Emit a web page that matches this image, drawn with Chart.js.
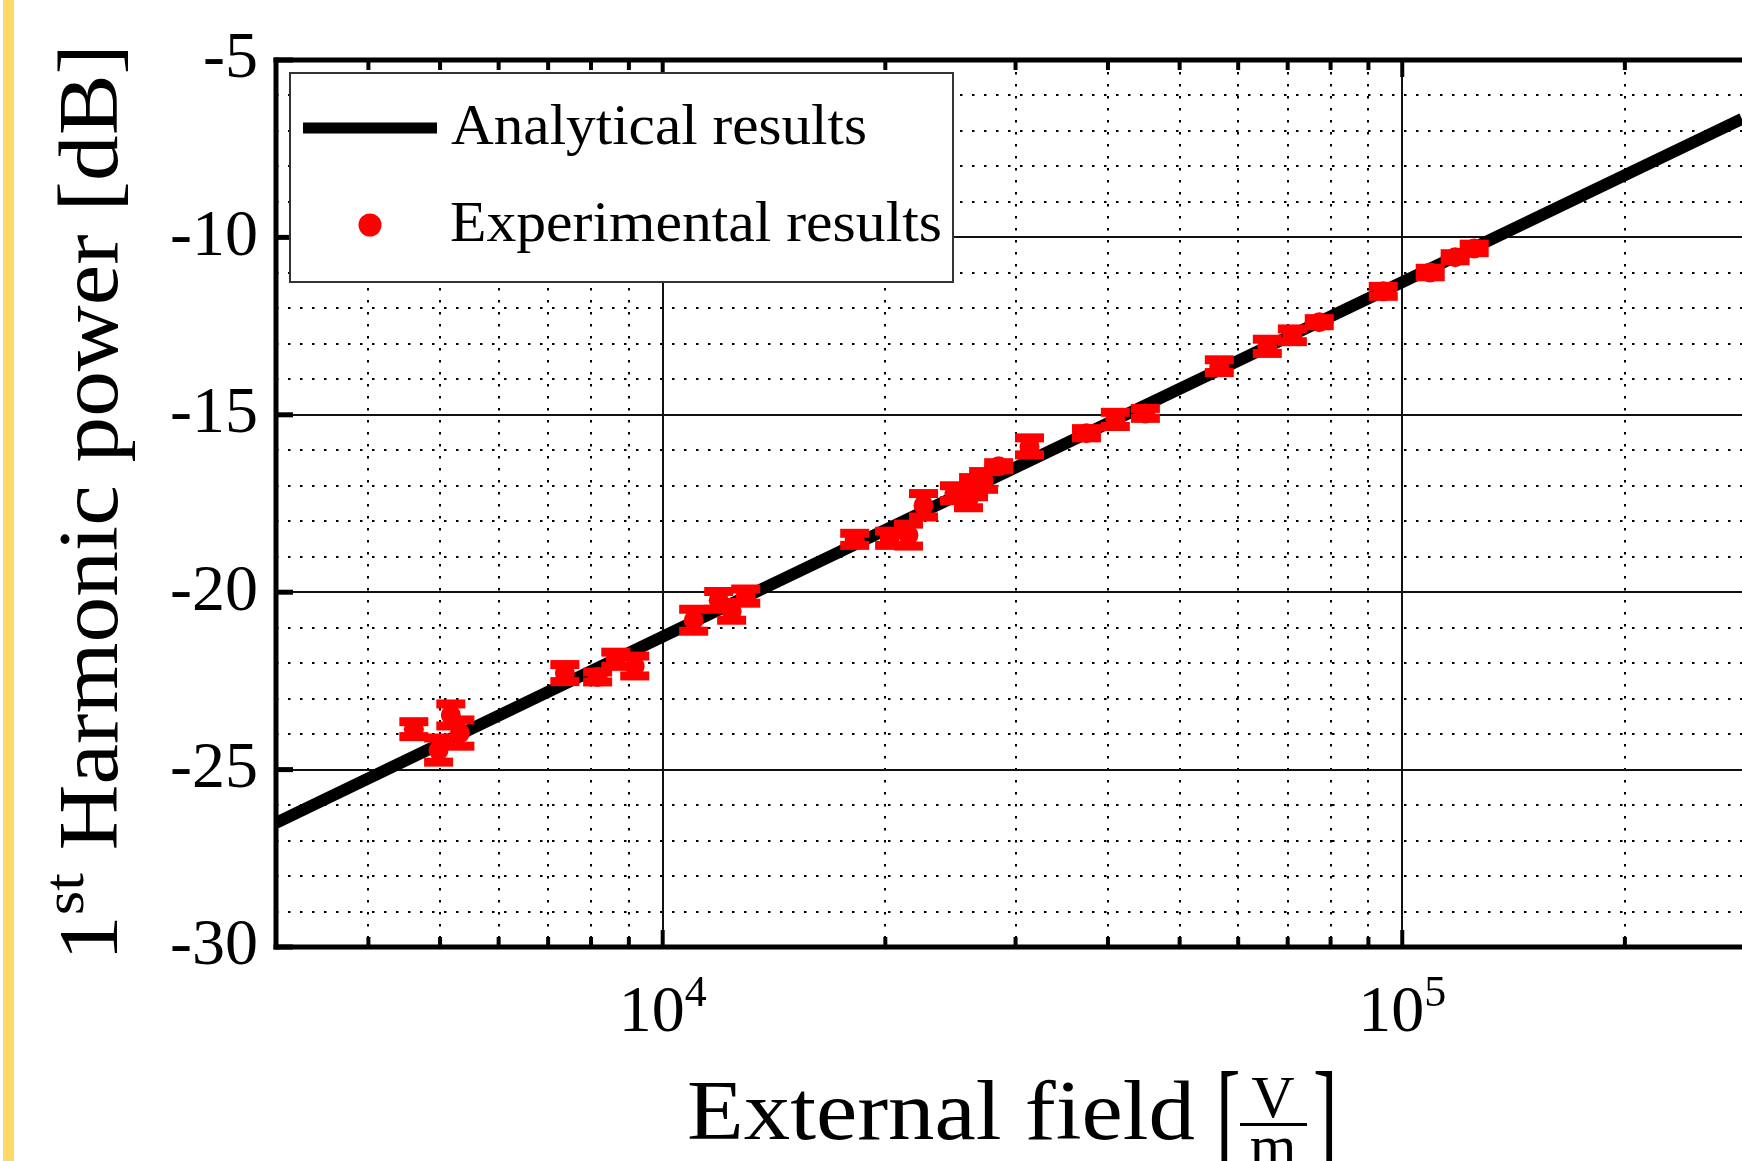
<!DOCTYPE html>
<html>
<head>
<meta charset="utf-8">
<script src="https://cdn.jsdelivr.net/npm/chart.js@4.4.0/dist/chart.umd.min.js"></script>
<style>
html,body{margin:0;padding:0;background:#fff;overflow:hidden}
#wrap{position:relative;width:1742px;height:1161px;background:#fff}
#stripe{position:absolute;left:3px;top:0;width:11px;height:1161px;background:#FFD966}
canvas{position:absolute;left:0;top:0}
</style>
</head>
<body>
<div id="wrap"><canvas id="c" width="1742" height="1161"></canvas><div id="stripe"></div></div>
<script>
// ---- data ----
const fieldExp = [4608, 4977, 5170, 5318, 7374, 8166, 8641, 9166, 11012, 11904, 12394, 12950,
  18181, 20269, 21495, 22524, 24803, 25910, 26321, 27158, 28460, 31330, 37411, 40929, 44944,
  56576, 65700, 71028, 77230, 94256, 109100, 117900, 125100];
const powerExp = [-23.86, -24.45, -23.46, -23.97, -22.28, -22.39, -21.89, -22.08, -20.79, -20.23, -20.54, -20.11,
  -18.51, -18.48, -18.39, -17.55, -17.21, -17.38, -17.04, -16.85, -16.45, -15.89, -15.52, -15.13, -14.96,
  -13.63, -13.07, -12.76, -12.39, -11.52, -10.99, -10.56, -10.31];
const errExp = [0.21, 0.34, 0.31, 0.37, 0.24, 0.14, 0.20, 0.28, 0.31, 0.25, 0.25, 0.20,
  0.17, 0.20, 0.31, 0.33, 0.21, 0.24, 0.27, 0.25, 0.10, 0.24, 0.13, 0.20, 0.14,
  0.18, 0.20, 0.18, 0.10, 0.14, 0.12, 0.10, 0.12];
const fieldAna = [3000, 10000, 100000, 288000];
const powerAna = [-26.5, -21.25, -11.26, -6.66];

const yMajorTicks = [-30, -25, -20, -15, -10, -5];
const yMinorGrid = [-29,-28,-27,-26,-24,-23,-22,-21,-19,-18,-17,-16,-14,-13,-12,-11,-9,-8,-7,-6];
const xMajorTicks = [10000, 100000];
const xMajorExp = ['4', '5'];
const xMinorTicks = [4000,5000,6000,7000,8000,9000,20000,30000,40000,50000,60000,70000,80000,90000,200000];

const legendLabels = ['Analytical results', 'Experimental results'];
const xTitleMain = 'External field';
const xTitleNum = 'V', xTitleDen = 'm';
const yTitleParts = ['1', 'st', ' Harmonic power [dB]'];

const SERIF = '"Liberation Serif", "DejaVu Serif", serif';
const RED = '#ff0000';

function line(ctx, x1, y1, x2, y2) { ctx.beginPath(); ctx.moveTo(x1, y1); ctx.lineTo(x2, y2); ctx.stroke(); }

const gridPlugin = {
  id: 'gridPlugin',
  beforeDatasetsDraw(chart) {
    const ctx = chart.ctx, a = chart.chartArea, xs = chart.scales.x, ys = chart.scales.y;
    ctx.save();
    ctx.strokeStyle = '#000';
    ctx.lineWidth = 2;
    ctx.setLineDash([2.5, 9.5]);
    xMinorTicks.forEach(v => { const p = Math.round(xs.getPixelForValue(v)); line(ctx, p, a.top, p, a.bottom); });
    yMinorGrid.forEach(v => { const p = Math.round(ys.getPixelForValue(v)); line(ctx, a.left, p, a.right, p); });
    ctx.setLineDash([]);
    ctx.strokeStyle = '#111';
    ctx.lineWidth = 2;
    xMajorTicks.forEach(v => { const p = Math.round(xs.getPixelForValue(v)); line(ctx, p, a.top, p, a.bottom); });
    yMajorTicks.forEach(v => { const p = Math.round(ys.getPixelForValue(v)); line(ctx, a.left, p, a.right, p); });
    ctx.restore();
  }
};

const errorBarPlugin = {
  id: 'errorBarPlugin',
  afterDatasetsDraw(chart) {
    const ctx = chart.ctx, xs = chart.scales.x, ys = chart.scales.y;
    ctx.save();
    ctx.fillStyle = RED;
    fieldExp.forEach((x, i) => {
      const px = xs.getPixelForValue(x);
      const yT = ys.getPixelForValue(powerExp[i] + errExp[i]);
      const yB = ys.getPixelForValue(powerExp[i] - errExp[i]);
      ctx.fillRect(px - 3, yT, 6, yB - yT);
      ctx.fillRect(px - 14.5, yT - 4.5, 29, 9);
      ctx.fillRect(px - 14.5, yB - 4.5, 29, 9);
    });
    ctx.restore();
  }
};

const framePlugin = {
  id: 'framePlugin',
  afterDraw(chart) {
    const ctx = chart.ctx, a = chart.chartArea, xs = chart.scales.x, ys = chart.scales.y;
    ctx.save();
    ctx.strokeStyle = '#000';
    ctx.setLineDash([]);
    // spines
    ctx.lineWidth = 5;
    line(ctx, a.left, a.top - 2.5, a.left, a.bottom + 2.5);
    line(ctx, a.left - 2.5, a.top, a.right, a.top);
    line(ctx, a.left - 2.5, a.bottom, a.right, a.bottom);
    // y ticks (inward)
    yMajorTicks.forEach(v => { const p = ys.getPixelForValue(v); line(ctx, a.left, p, a.left + 17, p); });
    // x ticks top & bottom (inward)
    ctx.lineWidth = 4;
    xMinorTicks.forEach(v => {
      const p = xs.getPixelForValue(v);
      line(ctx, p, a.bottom, p, a.bottom - 10);
      line(ctx, p, a.top, p, a.top + 10);
    });
    xMajorTicks.forEach(v => {
      const p = xs.getPixelForValue(v);
      line(ctx, p, a.bottom, p, a.bottom - 17);
      line(ctx, p, a.top, p, a.top + 17);
    });

    // x tick labels 10^n
    ctx.fillStyle = '#000';
    ctx.textBaseline = 'alphabetic';
    ctx.textAlign = 'left';
    xMajorTicks.forEach((v, i) => {
      const p = xs.getPixelForValue(v);
      ctx.font = '66px ' + SERIF;
      const w1 = ctx.measureText('10').width;
      ctx.font = '44px ' + SERIF;
      const w2 = ctx.measureText(xMajorExp[i]).width;
      const x0 = p - (w1 + w2) / 2;
      ctx.font = '66px ' + SERIF;
      ctx.fillText('10', x0, 1031);
      ctx.font = '44px ' + SERIF;
      ctx.fillText(xMajorExp[i], x0 + w1, 1006);
    });

    // legend
    ctx.fillStyle = '#fff';
    ctx.fillRect(290, 73, 663, 209);
    ctx.strokeStyle = '#333';
    ctx.lineWidth = 2;
    ctx.strokeRect(290, 73, 663, 209);
    ctx.strokeStyle = '#000';
    ctx.lineWidth = 11;
    ctx.lineCap = 'butt';
    line(ctx, 303, 128, 437, 128);
    ctx.fillStyle = RED;
    ctx.beginPath(); ctx.arc(370, 225, 11.5, 0, Math.PI * 2); ctx.fill();
    ctx.fillStyle = '#000';
    ctx.font = '58px ' + SERIF;
    const legTargets = [[451, 144, 416], [450, 241, 492]];
    legendLabels.forEach((t, i) => {
      const [lx, ly, tw] = legTargets[i];
      const w = ctx.measureText(t).width;
      ctx.save(); ctx.translate(lx, ly); ctx.scale(tw / w, 1); ctx.fillText(t, 0, 0); ctx.restore();
    });

    // x title
    ctx.font = '84px ' + SERIF;
    const wx = ctx.measureText(xTitleMain).width;
    ctx.save(); ctx.translate(687, 1139); ctx.scale(508 / wx, 1); ctx.fillText(xTitleMain, 0, 0); ctx.restore();
    // tall brackets
    ctx.font = '64px ' + SERIF;
    [['[', 1216], [']', 1313]].forEach(([ch, bx]) => {
      ctx.save(); ctx.translate(bx, 1073); ctx.scale(1.15, 2.05); ctx.fillText(ch, 0, 0.676 * 64); ctx.restore();
    });
    ctx.font = '60px ' + SERIF;
    ctx.textAlign = 'center';
    ctx.fillText(xTitleNum, 1273, 1117);
    ctx.fillText(xTitleDen, 1273, 1166);
    ctx.fillRect(1240, 1123, 67, 3);
    ctx.textAlign = 'left';

    // y title (rotated)
    ctx.save();
    ctx.translate(117, 961);
    ctx.rotate(-Math.PI / 2);
    ctx.font = '84px ' + SERIF;
    const w0 = ctx.measureText(yTitleParts[0]).width;
    const w2 = ctx.measureText(yTitleParts[2]).width;
    ctx.font = '58px ' + SERIF;
    const w1 = ctx.measureText(yTitleParts[1]).width;
    const s = 917 / (w0 + w1 + w2);
    ctx.scale(s, 1);
    ctx.font = '84px ' + SERIF;
    ctx.fillText(yTitleParts[0], 0, 0);
    ctx.font = '58px ' + SERIF;
    ctx.fillText(yTitleParts[1], w0, -34);
    ctx.font = '84px ' + SERIF;
    ctx.fillText(yTitleParts[2], w0 + w1, 0);
    ctx.restore();

    ctx.restore();
  }
};

new Chart(document.getElementById('c').getContext('2d'), {
  type: 'scatter',
  data: {
    datasets: [
      {
        label: legendLabels[0],
        data: fieldAna.map((x, i) => ({ x: x, y: powerAna[i] })),
        showLine: true,
        borderColor: '#000',
        borderWidth: 12,
        borderCapStyle: 'butt',
        pointRadius: 0,
        tension: 0,
        clip: 0,
        order: 2
      },
      {
        label: legendLabels[1],
        data: fieldExp.map((x, i) => ({ x: x, y: powerExp[i] })),
        pointRadius: 10,
        pointBackgroundColor: RED,
        pointBorderWidth: 0,
        backgroundColor: RED,
        borderColor: RED,
        order: 1
      }
    ]
  },
  options: {
    responsive: false,
    animation: false,
    devicePixelRatio: 1,
    layout: { autoPadding: false, padding: { left: 0, top: 60, right: 0, bottom: 214 } },
    plugins: { legend: { display: false }, tooltip: { enabled: false }, title: { display: false } },
    scales: {
      x: { type: 'logarithmic', min: 3000, max: 288000, display: false },
      y: {
        type: 'linear', min: -30, max: -5,
        afterFit: (scale) => { scale.width = 276; },
        ticks: {
          stepSize: 5,
          color: '#000',
          padding: 18,
          font: { family: SERIF, size: 66 },
          callback: (v) => String(v)
        },
        grid: { display: false, drawTicks: false },
        border: { display: false }
      }
    }
  },
  plugins: [gridPlugin, errorBarPlugin, framePlugin]
});
</script>
</body>
</html>
